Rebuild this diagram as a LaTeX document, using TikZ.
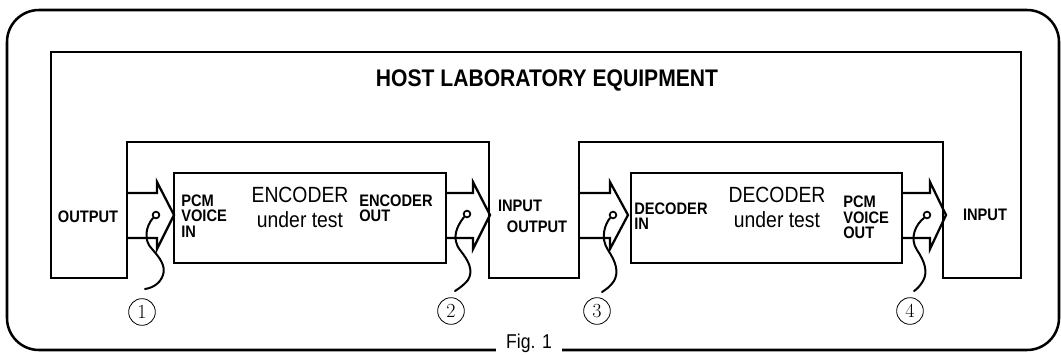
\documentclass[tikz,border=0pt]{standalone}
\usepackage{fontspec}
\newfontfamily\hsans[FakeStretch=0.88]{Liberation Sans}
\tikzset{
  heavy/.style={line width=1.7pt, line join=miter},
  smalllbl/.style={font=\hsans\bfseries\fontsize{12.5}{11.5}\selectfont, inner sep=0pt, align=left},
  biglbl/.style={font=\hsans\fontsize{16.5}{18.5}\selectfont, inner sep=0pt, align=center},
  numlbl/.style={circle, draw, line width=0.6pt, minimum size=20pt, inner sep=0pt, font=\fontsize{15}{15}\selectfont},
  probe/.style={circle, draw, line width=1.3pt, minimum size=5pt, inner sep=0pt},
  cable/.style={line width=1.5pt, line cap=round},
  chev/.style={line width=1.7pt, line join=miter}
}
\begin{document}
\begin{tikzpicture}[x=0.75pt,y=-0.75pt]
\useasboundingbox (0,0) rectangle (1061,354);
% outer frame
\draw[line width=1.9pt, rounded corners=24pt] (7,10) rectangle (1059,350);
% host equipment outline
\draw[heavy] (51,52) -- (1021,52) -- (1021,278) -- (943,278) -- (943,142) -- (579,142)
  -- (579,278) -- (489,278) -- (489,142) -- (127,142) -- (127,278) -- (51,278) -- cycle;
% devices under test
\node[draw, heavy, minimum width=272*0.75pt, minimum height=90*0.75pt, inner sep=0pt] (enc) at (310,218) {};
\node[draw, heavy, minimum width=271*0.75pt, minimum height=90*0.75pt, inner sep=0pt] (dec) at (766.5,218) {};
% connectors (chevrons)
\foreach \i/\xa/\xb/\xt in {1/127/157/174, 2/446/473/490, 3/579/610/628, 4/902/930/946}{
  \coordinate (c\i a) at (\xa,193);
  \coordinate (c\i b) at (\xa,238);
  \coordinate (c\i t) at (\xt,215);
  \draw[chev] (c\i a) -- (\xb,193) -- (\xb,182) -- (c\i t) -- (\xb,249) -- (\xb,238) -- (c\i b);
}
% probes and cables
\node[probe] (p1) at (156,215) {};
\node[probe] (p2) at (467,214) {};
\node[probe] (p3) at (613,215) {};
\node[probe] (p4) at (927,215) {};
\draw[cable] (p1.south west) .. controls (146,226) and (143,240) .. (152,249)
  .. controls (160,258) and (166,266) .. (163,275) .. controls (160,284) and (152,288) .. (145,289);
\draw[cable] (p2.south west) .. controls (457,226) and (451,238) .. (460,250)
  .. controls (468,260) and (474,270) .. (468,280) .. controls (463,286) and (458,289) .. (455,291);
\draw[cable] (p3.south west) .. controls (605,224) and (600,238) .. (608,250)
  .. controls (616,262) and (619,272) .. (614,281) .. controls (610,287) and (605,290) .. (602,292);
\draw[cable] (p4.south west) .. controls (916,224) and (909,238) .. (917,250)
  .. controls (925,262) and (928,272) .. (923,281) .. controls (920,286) and (917,289) .. (914,291);
% labels
\node[font=\hsans\bfseries\fontsize{18}{18}\selectfont, inner sep=0pt] (title) at (547,80) {HOST LABORATORY EQUIPMENT};
\node[smalllbl] (out1) at (88,217) {OUTPUT};
\node[smalllbl, anchor=west] (pcmin) at (181,216) {PCM\\VOICE\\IN};
\node[biglbl] (enctxt) at (300,207.5) {ENCODER\\under test};
\node[smalllbl, anchor=west] (encout) at (359,208.5) {ENCODER\\OUT};
\node[smalllbl] (in2) at (520,206) {INPUT};
\node[smalllbl] (out2) at (537,227) {OUTPUT};
\node[smalllbl, anchor=west] (decin) at (634,216.5) {DECODER\\IN};
\node[biglbl] (dectxt) at (777,207.5) {DECODER\\under test};
\node[smalllbl, anchor=west] (pcmout) at (843,217.5) {PCM\\VOICE\\OUT};
\node[smalllbl] (in3) at (985,215) {INPUT};
% figure caption breaking the frame
\node[fill=white, inner xsep=8pt, inner ysep=1pt, anchor=base, font=\hsans\fontsize{15}{15}\selectfont] (fig) at (529,348) {Fig. 1};
% probe numbers
\node[numlbl] (n1) at (142,312) {1};
\node[numlbl] (n2) at (451,311) {2};
\node[numlbl] (n3) at (597,311) {3};
\node[numlbl] (n4) at (910,311) {4};
\end{tikzpicture}
\end{document}
